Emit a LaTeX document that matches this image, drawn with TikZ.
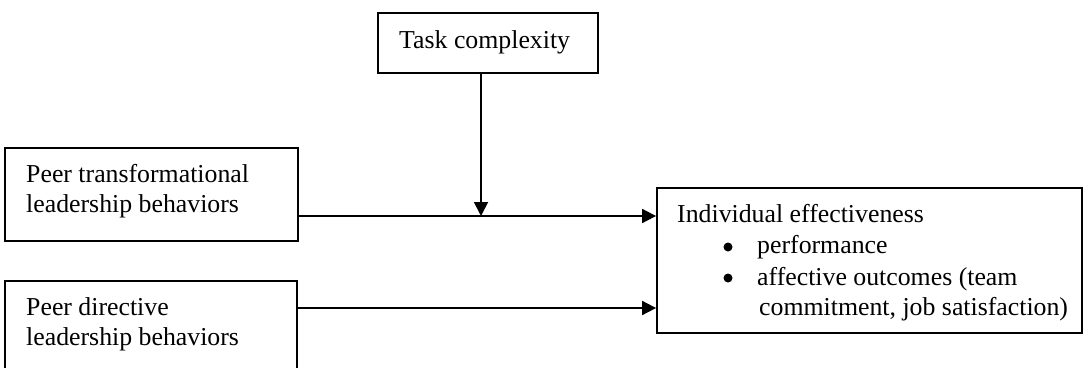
\documentclass[tikz,border=0pt]{standalone}
\usepackage{fontspec}
\setmainfont{Liberation Serif}
\usetikzlibrary{arrows.meta}
\begin{document}
\begin{tikzpicture}[x=1pt,y=-1pt,
  box/.style={draw=black,line width=1.8pt,rectangle,inner sep=0pt,fill=white},
  txt/.style={inner sep=0pt,anchor=base west,font=\fontsize{25.8}{30}\selectfont},
  bul/.style={circle,fill=black,inner sep=0pt,minimum size=9pt},
  arr/.style={draw=black,line width=1.8pt,-{Triangle[length=14pt,width=14pt]}}]
\clip (0,0) rectangle (1091,367);
\fill[white] (0,0) rectangle (1091,367);
% boxes
\node[box,minimum width=220pt,minimum height=60pt] (task) at (488,43) {};
\node[box,minimum width=293pt,minimum height=93pt] (ptl) at (151.5,194.5) {};
\node[box,minimum width=292pt,minimum height=100pt] (pdl) at (151,331) {};
\node[box,minimum width=425pt,minimum height=145pt] (eff) at (869.5,260.5) {};
% texts
\node[txt] (t1) at (399,48) {Task complexity};
\node[txt] (p1) at (26,182) {Peer transformational};
\node[txt] (p2) at (26,212) {leadership behaviors};
\node[txt] (d1) at (26,315) {Peer directive};
\node[txt] (d2) at (26,345) {leadership behaviors};
\node[txt] (e1) at (677,222) {Individual effectiveness};
\node[bul] (b1) at (728,247) {};
\node[txt] (e2) at (757,253) {performance};
\node[bul] (b2) at (728,278) {};
\node[txt] (e3) at (757,285) {affective outcomes (team};
\node[txt] (e4) at (759,315) {commitment, job satisfaction)};
% connectors
\coordinate (in1) at (eff.west |- 0,216);
\coordinate (in2) at (eff.west |- 0,308);
\coordinate (mod) at (481,216);
\draw[arr] (in1 -| ptl.east) -- (in1);
\draw[arr] (in2 -| pdl.east) -- (in2);
\draw[arr] (task.south -| mod) -- (mod);
\end{tikzpicture}
\end{document}
